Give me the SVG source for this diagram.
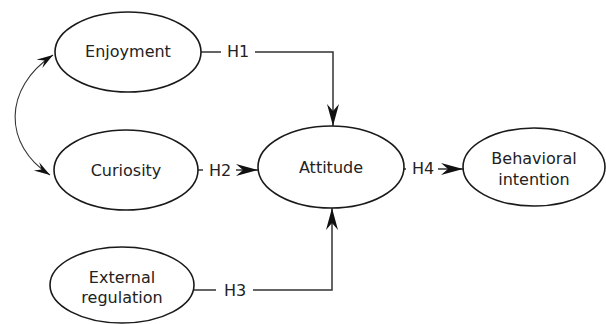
<svg xmlns="http://www.w3.org/2000/svg" width="606" height="324" viewBox="0 0 606 324">
<style>
.node ellipse{fill:#fff;stroke:#1a1a1a;stroke-width:1.6}
.node text,.lbl{font-family:"DejaVu Sans",Verdana,sans-serif;font-size:16px;fill:#222;text-anchor:middle}
.conn{fill:none;stroke:#333;stroke-width:1.5}
.thin{fill:none;stroke:#333;stroke-width:1.1}
</style>
<defs>
<marker id="ah" viewBox="-22 -7 23 14" refX="0" refY="0" markerWidth="23" markerHeight="14" markerUnits="userSpaceOnUse" orient="auto">
<path d="M0,0 L-22,-6 L-15,0 L-22,6 Z" fill="#111"/>
</marker>
<marker id="as" viewBox="-16 -6 17 12" refX="0" refY="0" markerWidth="17" markerHeight="12" markerUnits="userSpaceOnUse" orient="auto">
<path d="M0,0 L-16,-5 L-10,0 L-16,5 Z" fill="#111"/>
</marker>
<marker id="as0" viewBox="-16 -6 17 12" refX="0" refY="0" markerWidth="17" markerHeight="12" markerUnits="userSpaceOnUse" orient="auto-start-reverse">
<path d="M0,0 L-16,-5 L-10,0 L-16,5 Z" fill="#111"/>
</marker>
</defs>
<g id="connectors">
<path class="conn" d="M201,52 H221 M255,52 H333 V126" marker-end="url(#ah)"/>
<path class="conn" d="M198,170 H203"/>
<path class="conn" d="M236,170 H258" marker-end="url(#ah)"/>
<path class="conn" d="M194,290 H216 M253,290 H332 V208" marker-end="url(#ah)"/>
<path class="conn" d="M403,169 H406"/>
<path class="conn" d="M438,169 H463" marker-end="url(#ah)"/>
<path class="thin" d="M53,55 C3,88 3,145 50,175" marker-start="url(#as0)" marker-end="url(#as)"/>
<text class="lbl" x="238" y="57">H1</text>
<text class="lbl" x="220" y="176">H2</text>
<text class="lbl" x="235" y="296">H3</text>
<text class="lbl" x="423" y="174">H4</text>
</g>
<g id="enjoyment" class="node"><ellipse cx="128" cy="52" rx="73" ry="40"/><text x="128" y="57">Enjoyment</text></g>
<g id="curiosity" class="node"><ellipse cx="126" cy="170" rx="72" ry="40"/><text x="126" y="176">Curiosity</text></g>
<g id="external" class="node"><ellipse cx="122" cy="285" rx="72" ry="38"/><text x="122" y="283">External</text><text x="122" y="303">regulation</text></g>
<g id="attitude" class="node"><ellipse cx="331" cy="167" rx="73" ry="41"/><text x="331" y="173">Attitude</text></g>
<g id="behavioral" class="node"><ellipse cx="534" cy="167" rx="71" ry="39"/><text x="534" y="164">Behavioral</text><text x="534" y="185">intention</text></g>
</svg>
